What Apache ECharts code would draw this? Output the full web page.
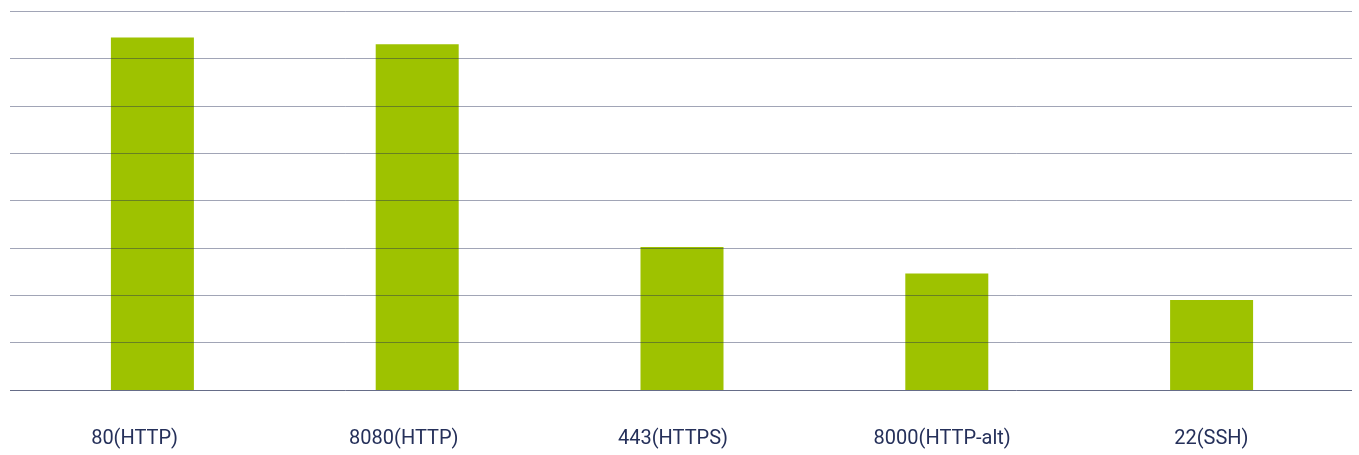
<!DOCTYPE html>
<html>
<head>
<meta charset="utf-8">
<script src="https://cdn.jsdelivr.net/npm/echarts@6/dist/echarts.min.js"></script>
<style>
  html, body { margin: 0; padding: 0; background: #ffffff; }
  #chart { width: 1359px; height: 455px; }
</style>
</head>
<body>
<div id="chart"></div>
<script>
// Ports and their share of observed traffic
const ports = ['80(HTTP)', '8080(HTTP)', '443(HTTPS)', '8000(HTTP-alt)', '22(SSH)'];
const shares = [37.2, 36.5, 15.1, 12.3, 9.5];
// guide line levels on the value scale (0 is the baseline)
const guideLevels = [0, 5, 10, 15, 20, 25, 30, 35, 40];
const scaleMax = 40;
const scaleStep = 5;

const barColor = '#9ec200';
const lineColor = 'rgba(30, 40, 80, 0.42)';
const baseColor = 'rgba(30, 40, 80, 0.68)';
const textColor = '#25305a';

const chart = echarts.init(document.getElementById('chart'), null, { renderer: 'canvas' });

const valueAxis = (gridIndex) => ({
  gridIndex, type: 'value', min: 0, max: scaleMax, interval: scaleStep,
  axisLine: { show: false }, axisTick: { show: false }, axisLabel: { show: false },
  splitLine: { show: false }
});

chart.setOption({
  animation: false,
  backgroundColor: '#ffffff',
  grid: [
    // guide lines (drawn above the bars)
    { left: 10, right: 7, top: 11, bottom: 65 },
    // bars
    { left: 20, right: 15, top: 11, bottom: 65 },
    // category labels
    { left: 0, right: 13, top: 11, bottom: 65 }
  ],
  xAxis: [
    {
      gridIndex: 0, type: 'category', data: ports,
      axisLine: { show: false }, axisTick: { show: false }, axisLabel: { show: false }
    },
    {
      gridIndex: 1, type: 'category', data: ports,
      axisLine: { show: false }, axisTick: { show: false }, axisLabel: { show: false }
    },
    {
      gridIndex: 2, type: 'category', data: ports,
      axisLine: { show: false }, axisTick: { show: false },
      axisLabel: {
        show: true, margin: 39, color: textColor,
        fontFamily: 'Roboto', fontSize: 20
      }
    }
  ],
  yAxis: [valueAxis(0), valueAxis(1), valueAxis(2)],
  series: [
    {
      type: 'bar',
      xAxisIndex: 1, yAxisIndex: 1,
      data: shares,
      barWidth: 83,
      z: 2,
      itemStyle: { color: barColor }
    },
    {
      // carrier for the horizontal guide lines
      type: 'line',
      xAxisIndex: 0, yAxisIndex: 0,
      data: [],
      z: 10,
      silent: true,
      markLine: {
        silent: true,
        symbol: ['none', 'none'],
        label: { show: false },
        emphasis: { disabled: true },
        lineStyle: { color: lineColor, width: 1, type: 'solid' },
        data: guideLevels.map(v => v === 0
          ? { yAxis: v, lineStyle: { color: baseColor, width: 1, type: 'solid' } }
          : { yAxis: v })
      }
    }
  ]
});
</script>
</body>
</html>
